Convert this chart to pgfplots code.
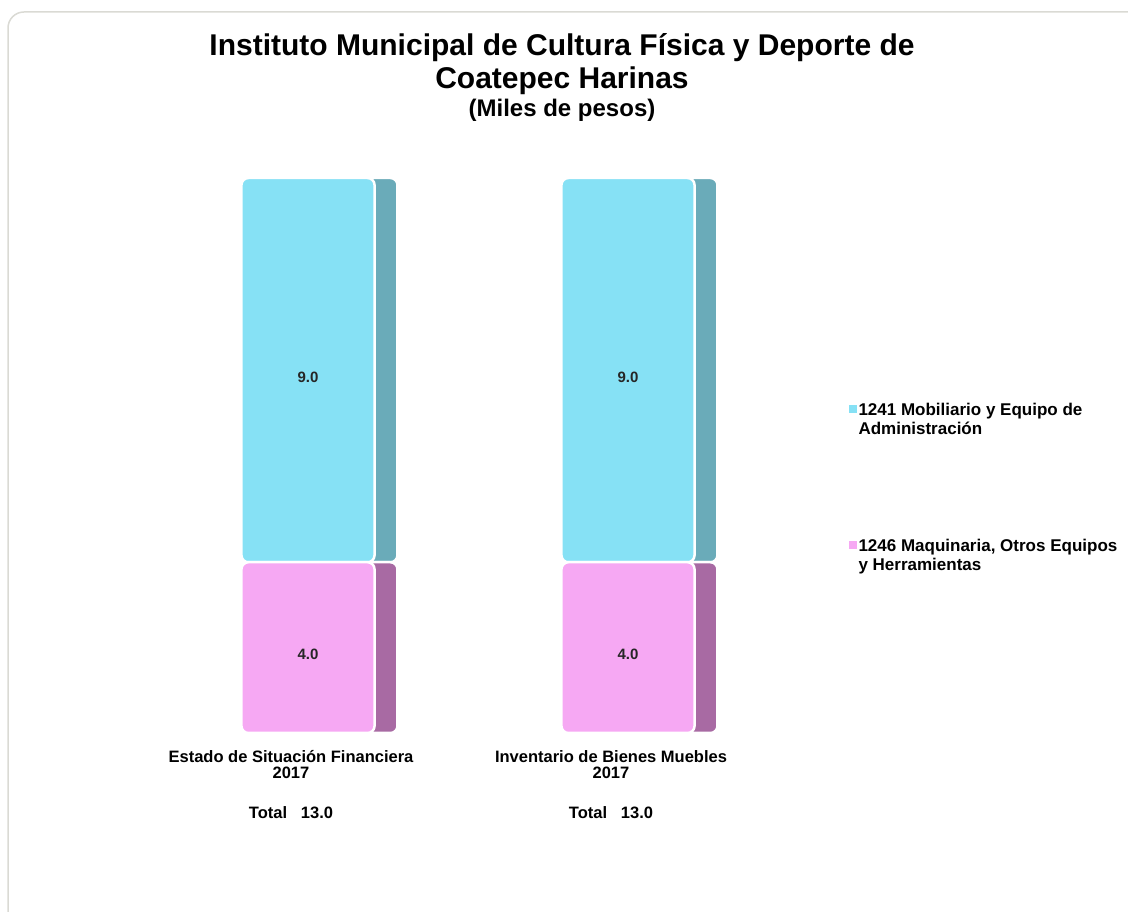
\documentclass[border=0pt]{standalone}
\usepackage{pgfplots}
\pgfplotsset{compat=1.18}
\usepackage{fontspec}
\setmainfont{Liberation Sans}
\definecolor{cyF}{HTML}{86E1F5}
\definecolor{cyS}{HTML}{6AABB9}
\definecolor{pkF}{HTML}{F6A8F3}
\definecolor{pkS}{HTML}{A86AA3}
\definecolor{frm}{HTML}{DADAD4}
\pgfplotsset{base/.style={at={(148pt,179pt)}, anchor=south west, scale only axis,
  width=640pt, height=555pt, xmin=-0.5, xmax=1.5, ymin=0, ymax=13, clip=false}}
\begin{document}
\begin{tikzpicture}
\useasboundingbox (0,0) rectangle (1128pt,912pt);
\begin{scope}
\clip (0,0) rectangle (1128pt,912pt);
\draw[frm, line width=1.5pt, rounded corners=16pt] (8pt,-40pt) rectangle (1170pt,900pt);
\end{scope}
\node[anchor=north, align=center, inner sep=0pt, font=\bfseries\fontsize{30}{33}\selectfont]
  at (562pt,879pt) {Instituto Municipal de Cultura Física y Deporte de\\Coatepec Harinas\\[-5pt]{\fontsize{24}{27}\selectfont (Miles de pesos)}};
% side faces
\begin{axis}[base, hide axis, ybar stacked]
\addplot[fill=pkS, draw=white, line width=2.5pt, rounded corners=7pt, bar width=0.115, bar shift=0.222] coordinates {(0,4) (1,4)};
\addplot[fill=cyS, draw=white, line width=2.5pt, rounded corners=7pt, bar width=0.115, bar shift=0.222] coordinates {(0,9) (1,9)};
\end{axis}
% front faces
\begin{axis}[base, ybar stacked, axis line style={draw=none}, ytick=\empty,
  xtick={0,1}, major tick length=0pt,
  xticklabels={{Estado de Situación Financiera\\2017\\[24pt]Total\ \ \ 13.0},{Inventario de Bienes Muebles\\2017\\[24pt]Total\ \ \ 13.0}},
  xticklabel style={align=center, font=\bfseries\fontsize{16.5}{16}\selectfont, xshift=-17pt, yshift=-14pt},
  reverse legend, legend cell align=left,
  legend image code/.code={\fill[#1,draw=none,sharp corners] (0pt,-4pt) rectangle (8pt,4pt);},
  legend style={at={(1.095,0.6)}, anchor=north west, draw=none, fill=none, inner sep=0pt,
    row sep=118pt, font=\bfseries\fontsize{17}{19.5}\selectfont, nodes={inner sep=1.5pt}}]
\addplot[fill=pkF, draw=white, line width=2.5pt, rounded corners=7pt, bar width=0.416, bar shift=0] coordinates {(0,4) (1,4)};
\addlegendentry{\begin{tabular}[t]{@{}l@{}}1246 Maquinaria, Otros Equipos\\y Herramientas\end{tabular}}
\addplot[fill=cyF, draw=white, line width=2.5pt, rounded corners=7pt, bar width=0.416, bar shift=0] coordinates {(0,9) (1,9)};
\addlegendentry{\begin{tabular}[t]{@{}l@{}}1241 Mobiliario y Equipo de\\Administración\end{tabular}}
\end{axis}
% value labels
\begin{axis}[base, hide axis]
\addplot[only marks, mark=*, mark size=0pt, mark options={draw=none, fill=none},
  nodes near coords, point meta=explicit symbolic,
  every node near coord/.append style={anchor=center, yshift=-7pt, text=black!85, font=\bfseries\fontsize{15}{15}\selectfont}]
  coordinates {(0,2)[4.0] (0,8.5)[9.0] (1,2)[4.0] (1,8.5)[9.0]};
\end{axis}
\end{tikzpicture}
\end{document}
